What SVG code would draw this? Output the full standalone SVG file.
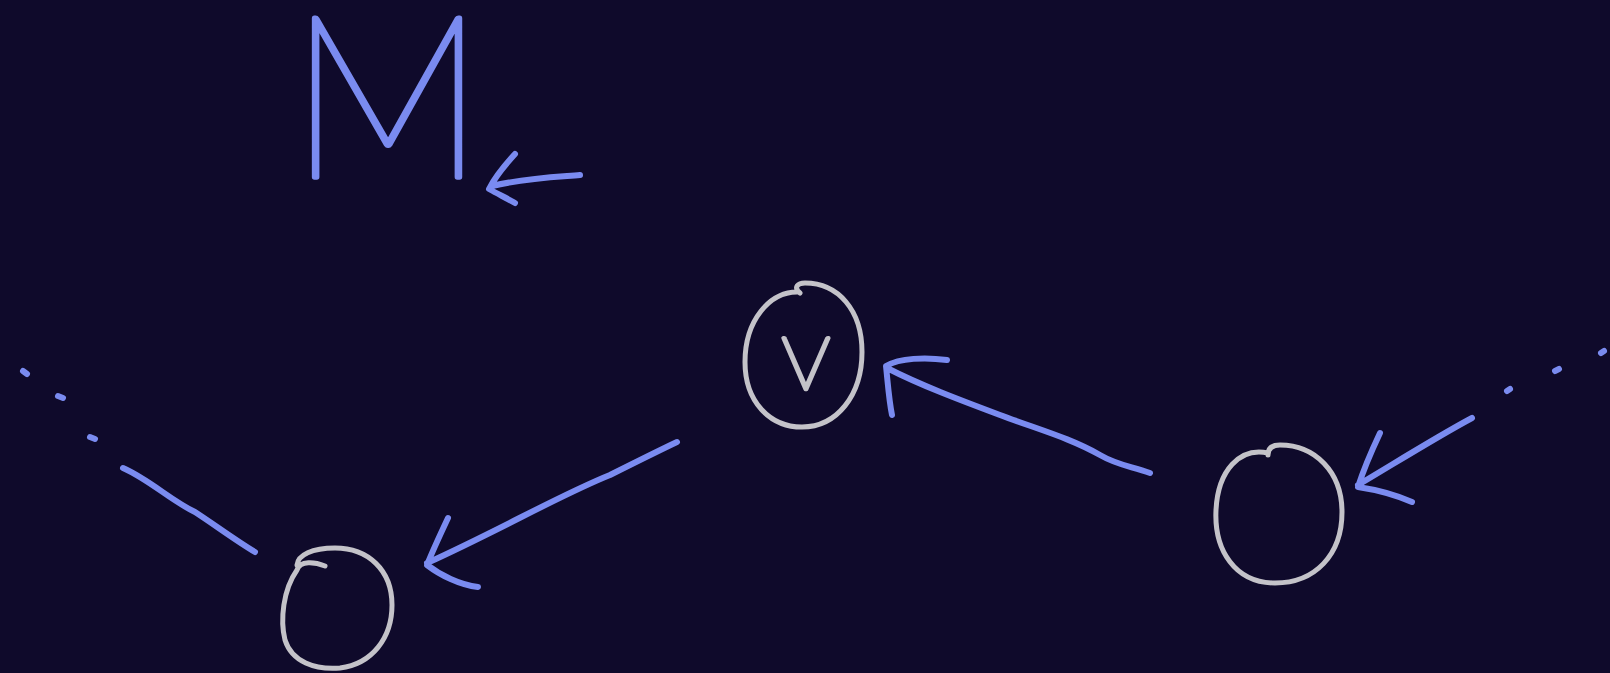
<svg xmlns="http://www.w3.org/2000/svg" width="1610" height="673" viewBox="0 0 1610 673">
<style>
.blue{fill:none;stroke:#7a8bf0;stroke-width:6;stroke-linecap:round;stroke-linejoin:round}
.gray{fill:none;stroke:#c4c3c9;stroke-width:5;stroke-linecap:round;stroke-linejoin:round}
.lbl{font-family:Lato,"Liberation Sans",sans-serif;font-weight:100;stroke-linejoin:round;stroke-linecap:round}
</style>
<rect x="0" y="0" width="1610" height="673" fill="#0f0a2b"/>
<g id="label-M">
<text class="lbl" x="289" y="177" font-size="226" fill="#7a8bf0" stroke="#7a8bf0" stroke-width="5.5" textLength="196" lengthAdjust="spacingAndGlyphs">M</text>
<path class="blue" d="M580,175 C555,177 525,178 492,186 M515,154 C505,165 495,177 489,189 C498,194 508,199 515,203"/>
</g>
<g id="node-v">
<path class="gray" d="M797,292 C770,292 745,320 745,362 C745,402 770,427 802,427 C837,427 862,395 862,352 C862,310 838,283 805,283 C798,283 793,287 800,293"/>
<text class="lbl" x="806" y="389" font-size="104" fill="#c4c3c9" stroke="#c4c3c9" stroke-width="4" text-anchor="middle">v</text>
</g>
<g id="node-left">
<path class="gray" d="M325,566 C315,562 300,560 297,570 C283,590 280,620 285,640 C292,662 315,670 340,668 C372,664 392,638 392,605 C392,570 368,548 335,548 C312,548 298,555 297,565"/>
</g>
<g id="node-right">
<path class="gray" d="M1268,453 C1240,447 1218,470 1216,510 C1214,550 1235,583 1275,583 C1315,583 1342,555 1342,512 C1342,472 1315,445 1280,445 C1272,445 1268,448 1268,455"/>
</g>
<g id="connectors">
<path class="blue" d="M23,371 L27,374 M58,396 L63,398 M90,437 L95,439"/>
<path class="blue" d="M123,468 C150,480 170,500 195,512 C215,525 235,540 255,552"/>
<path class="blue" d="M677,442 C660,450 640,460 610,475 C560,495 500,530 427,563 M448,518 C440,535 433,550 427,565 C440,575 460,585 478,587"/>
<path class="blue" d="M1150,473 C1130,466 1117,465 1100,455 C1070,438 1040,430 1000,415 C960,400 920,385 887,368 M947,360 C925,357 900,358 886,366 C888,385 889,400 892,415"/>
<path class="blue" d="M1472,418 C1440,435 1400,460 1358,485 M1380,433 C1372,450 1364,468 1358,487 C1378,490 1396,495 1412,502"/>
<path class="blue" d="M1507,391 L1510,389 M1555,371 L1559,369 M1601,353 L1604,351"/>
</g>
</svg>
